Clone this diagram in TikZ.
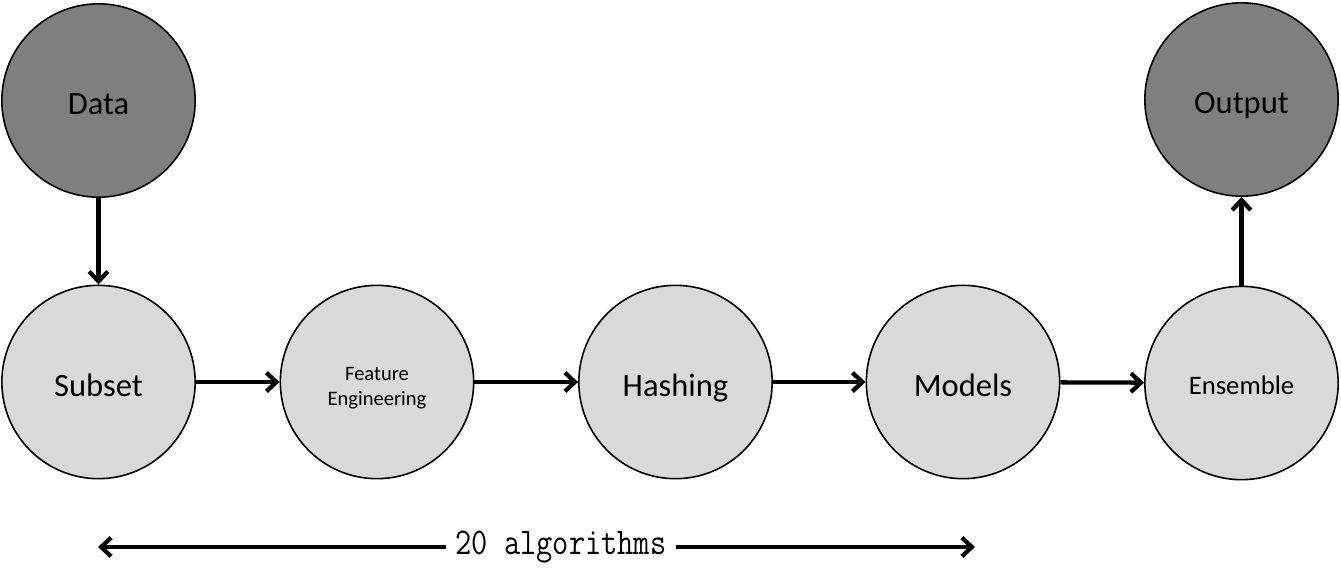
\documentclass[tikz,border=0pt]{standalone}
\usepackage{fontspec}
\setmainfont{Carlito}
\usetikzlibrary{arrows.meta}
\definecolor{darkfill}{HTML}{7F7F7F}
\definecolor{lightfill}{HTML}{D9D9D9}
\tikzset{
  bubble/.style={circle, draw=black, line width=1.2pt, minimum size=145pt, inner sep=0pt},
  darkbubble/.style={bubble, fill=darkfill},
  lightbubble/.style={bubble, fill=lightfill},
  bigtext/.style={font=\fontsize{24.4pt}{29pt}\selectfont, text height=21pt, text depth=0pt},
  flowarrow/.style={line width=3.2pt, -{Straight Barb[length=7.5pt, width=14pt, line width=3.2pt]}},
}
\begin{document}
\begin{tikzpicture}[x=0.75pt, y=-0.75pt]
\useasboundingbox (0,0) rectangle (1341,569);
\node[darkbubble, bigtext] (data) at (98.5,100.5) {Data};
\node[darkbubble, bigtext] (output) at (1241.5,99.5) {Output};
\node[lightbubble, bigtext] (subset) at (98.5,382) {Subset};
\node[lightbubble, align=center, font=\fontsize{15.4pt}{18.75pt}\selectfont, text height=38.5pt, text depth=3.1pt] (fe) at (377,382) {Feature\\Engineering};
\node[lightbubble, bigtext] (hashing) at (675.5,382) {Hashing};
\node[lightbubble, bigtext] (models) at (963,382) {Models};
\node[lightbubble, font=\fontsize{20pt}{24pt}\selectfont, text height=16.5pt, text depth=0pt] (ensemble) at (1241.5,383) {Ensemble};

\draw[flowarrow] (data) -- (subset);
\draw[flowarrow] (subset) -- (fe);
\draw[flowarrow] (fe) -- (hashing);
\draw[flowarrow] (hashing) -- (models);
\draw[flowarrow] (models) -- (ensemble);
\draw[flowarrow] (ensemble) -- (output);

\node[inner xsep=7pt, inner ysep=0pt, font=\ttfamily\fontsize{23.6pt}{28pt}\selectfont] (algs) at (561,547) {\scalebox{1}[1.2]{20 algorithms}};
\coordinate (lend) at (98,547);
\coordinate (rend) at (975,547);
\draw[flowarrow] (algs.west) -- (lend);
\draw[flowarrow] (algs.east) -- (rend);
\end{tikzpicture}
\end{document}
